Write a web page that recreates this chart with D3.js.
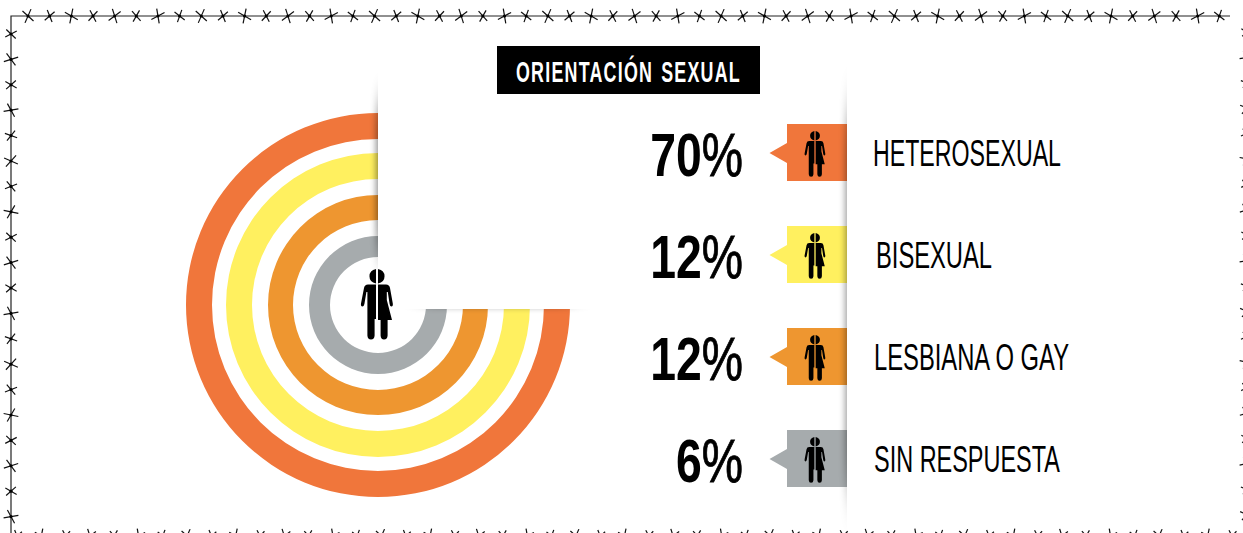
<!DOCTYPE html>
<html><head><meta charset="utf-8">
<script src="https://cdn.jsdelivr.net/npm/d3@7"></script>
<style>html,body{margin:0;padding:0;background:#fff;overflow:hidden}
svg{display:block}text{font-family:"Liberation Sans Narrow","Liberation Sans",sans-serif}</style>
</head><body><svg id="c" width="1243" height="533"></svg>
<script>
const title = "ORIENTACIÓN SEXUAL";
const categories = ["HETEROSEXUAL","BISEXUAL","LESBIANA O GAY","SIN RESPUESTA"];
const values = [70,12,12,6];
const colors = ["#F0763B","#FFF05F","#EE9630","#A6ABAD"];

const svg = d3.select("#c");
const defs = svg.append("defs");
const color = d3.scaleOrdinal(categories, colors);
const rOuter = d3.scaleOrdinal(categories, [192,152,110,69]);
const rInner = d3.scaleOrdinal(categories, [166,126,85,48]);
const rowY = d3.scalePoint(categories, [152.5,458.5]);
const labelX = d3.scaleOrdinal(categories, [873,876,874,874]);
const labelW = d3.scaleOrdinal(categories, [188,116,195,186]);
const cx = 378, cy = 305;

function blur(id, sx, sy){
  defs.append("filter").attr("id",id).attr("filterUnits","userSpaceOnUse")
    .attr("x",0).attr("y",0).attr("width",1243).attr("height",533)
    .append("feGaussianBlur").attr("stdDeviation",sx+" "+sy);
}
blur("bL",3,16); blur("bR",3,24); blur("bB",12,2.5);
defs.append("clipPath").attr("id","cpL").append("rect").attr("width",378).attr("height",533);
defs.append("clipPath").attr("id","cpR").append("rect").attr("width",847).attr("height",533);
defs.append("clipPath").attr("id","cpB").append("rect").attr("y",309).attr("width",1243).attr("height",224);

// rings
const arc = d3.arc().startAngle(Math.PI/2).endAngle(2*Math.PI);
svg.append("g").attr("transform",`translate(${cx},${cy})`)
  .selectAll("path").data(categories).join("path")
  .attr("d",d=>arc({innerRadius:rInner(d),outerRadius:rOuter(d)}))
  .attr("fill",d=>color(d));

// panel shadows
svg.append("g").attr("clip-path","url(#cpL)").append("rect")
  .attr("x",376).attr("y",105).attr("width",10).attr("height",145)
  .attr("fill","#000").attr("opacity",.42).attr("filter","url(#bL)");
svg.append("g").attr("clip-path","url(#cpB)").append("rect")
  .attr("x",425).attr("y",300).attr("width",145).attr("height",9)
  .attr("fill","#000").attr("opacity",.2).attr("filter","url(#bB)");
svg.append("rect").attr("x",378).attr("y",30).attr("width",420).attr("height",279).attr("fill","#fff");

// title
svg.append("rect").attr("x",497).attr("y",46).attr("width",263).attr("height",48).attr("fill","#000");
svg.append("text").attr("x",516).attr("y",81.5).attr("font-size",29).attr("font-weight",700)
  .attr("letter-spacing",2).attr("word-spacing",3)
  .attr("fill","#fff").attr("textLength",225).attr("lengthAdjust","spacingAndGlyphs").text(title);

// person icon: left half man, right half woman
const personPath =
 "M-1,0 A8.5,7.5 0 0 0 -1,14.6 Z" +
 "M-1,15.5 L-9,15.5 Q-12.4,15.5 -13,19 L-16,34.5 Q-16.4,37.5 -14.6,37.6 Q-13.2,37.6 -12.6,35 L-10.6,23 L-9.6,23 L-9.6,66.5 Q-9.4,70.5 -6,70.5 Q-2.6,70.5 -2.4,66.5 L-2.4,50 L-1,50 Z" +
 "M1,0 A8.5,7.5 0 0 1 1,14.6 Z" +
 "M1,15.5 L9,15.5 Q12.4,15.5 13,19 L15.8,34.5 Q16.2,37.5 14.4,37.6 Q13,37.6 12.6,35 L10.8,23 L9.8,23 L9.8,31 L15,51 L10.6,51 L10.6,66.5 Q10.4,70.5 7,70.5 Q3.8,70.5 3.6,66.5 L3.6,51 L1,51 Z";
function person(g,x,y,s){
  g.append("path").attr("d",personPath).attr("fill","#000")
   .attr("transform",`translate(${x},${y}) scale(${s})`);
}
person(svg,377,269,1);

// tags
const tags = svg.append("g").selectAll("g").data(categories).join("g");
tags.append("path").attr("fill",d=>color(d))
  .attr("d",d=>{const y=rowY(d);return d3.line()([[847,y-28.5],[787,y-28.5],[787,y-9.5],[769.5,y+0.5],[787,y+10.5],[787,y+28.5],[847,y+28.5]])+"Z";});
tags.each(function(d){person(d3.select(this),815,rowY(d)-21.5,0.65);});

// vertical shadow at the right panel
svg.append("g").attr("clip-path","url(#cpR)").append("rect")
  .attr("x",845).attr("y",115).attr("width",10).attr("height",370)
  .attr("fill","#000").attr("opacity",.36).attr("filter","url(#bR)");

// percentages
const nums = svg.append("g").selectAll("text").data(categories).join("text")
  .attr("transform",d=>`translate(743,${rowY(d)+23.5}) scale(0.76,1)`)
  .attr("text-anchor","end").attr("font-size",61).attr("fill","#000");
nums.append("tspan").attr("font-weight",700).text((d,i)=>values[i]);
nums.append("tspan").attr("stroke","#000").attr("stroke-width",0.9).text("%");

// labels
svg.append("g").selectAll("text").data(categories).join("text")
  .attr("x",d=>labelX(d)).attr("y",d=>rowY(d)+13).attr("font-size",36).attr("fill","#000")
  .attr("textLength",d=>labelW(d)).attr("lengthAdjust","spacingAndGlyphs").text(d=>d);

// barbed wire frame
const wire = svg.append("g").attr("stroke","#111").attr("fill","none");
const tilt = [-12,14,-24,8,18,-6,26,-16];
function star(x,y,i,rot){
  const a = tilt[i%tilt.length]*Math.PI/180+rot, s=i%2?6.5:7.5;
  [0.62,-0.62].forEach(b=>{
    const t=a+b+Math.PI/2;
    wire.append("line").attr("x1",x-s*Math.cos(t)).attr("y1",y-s*Math.sin(t))
      .attr("x2",x+s*Math.cos(t)).attr("y2",y+s*Math.sin(t)).attr("stroke-width",1.2);
  });
  wire.append("circle").attr("cx",x).attr("cy",y).attr("r",1.6).attr("fill","#000").attr("stroke","none");
}
wire.append("path").attr("d","M1230,16 H11 V533").attr("stroke-width",1.2).attr("stroke","#222");
d3.range(28,1235,21.66).forEach((x,i)=>star(x,16,i,0));
d3.range(34,533,25.4).forEach((y,i)=>star(11,y,i+3,Math.PI/2));
d3.range(17,1243,24.3).forEach((x,i)=>star(x,536,i+1,0));
d3.range(32,533,25.4).forEach((y,i)=>star(1247,y,i+5,Math.PI/2));
</script></body></html>
